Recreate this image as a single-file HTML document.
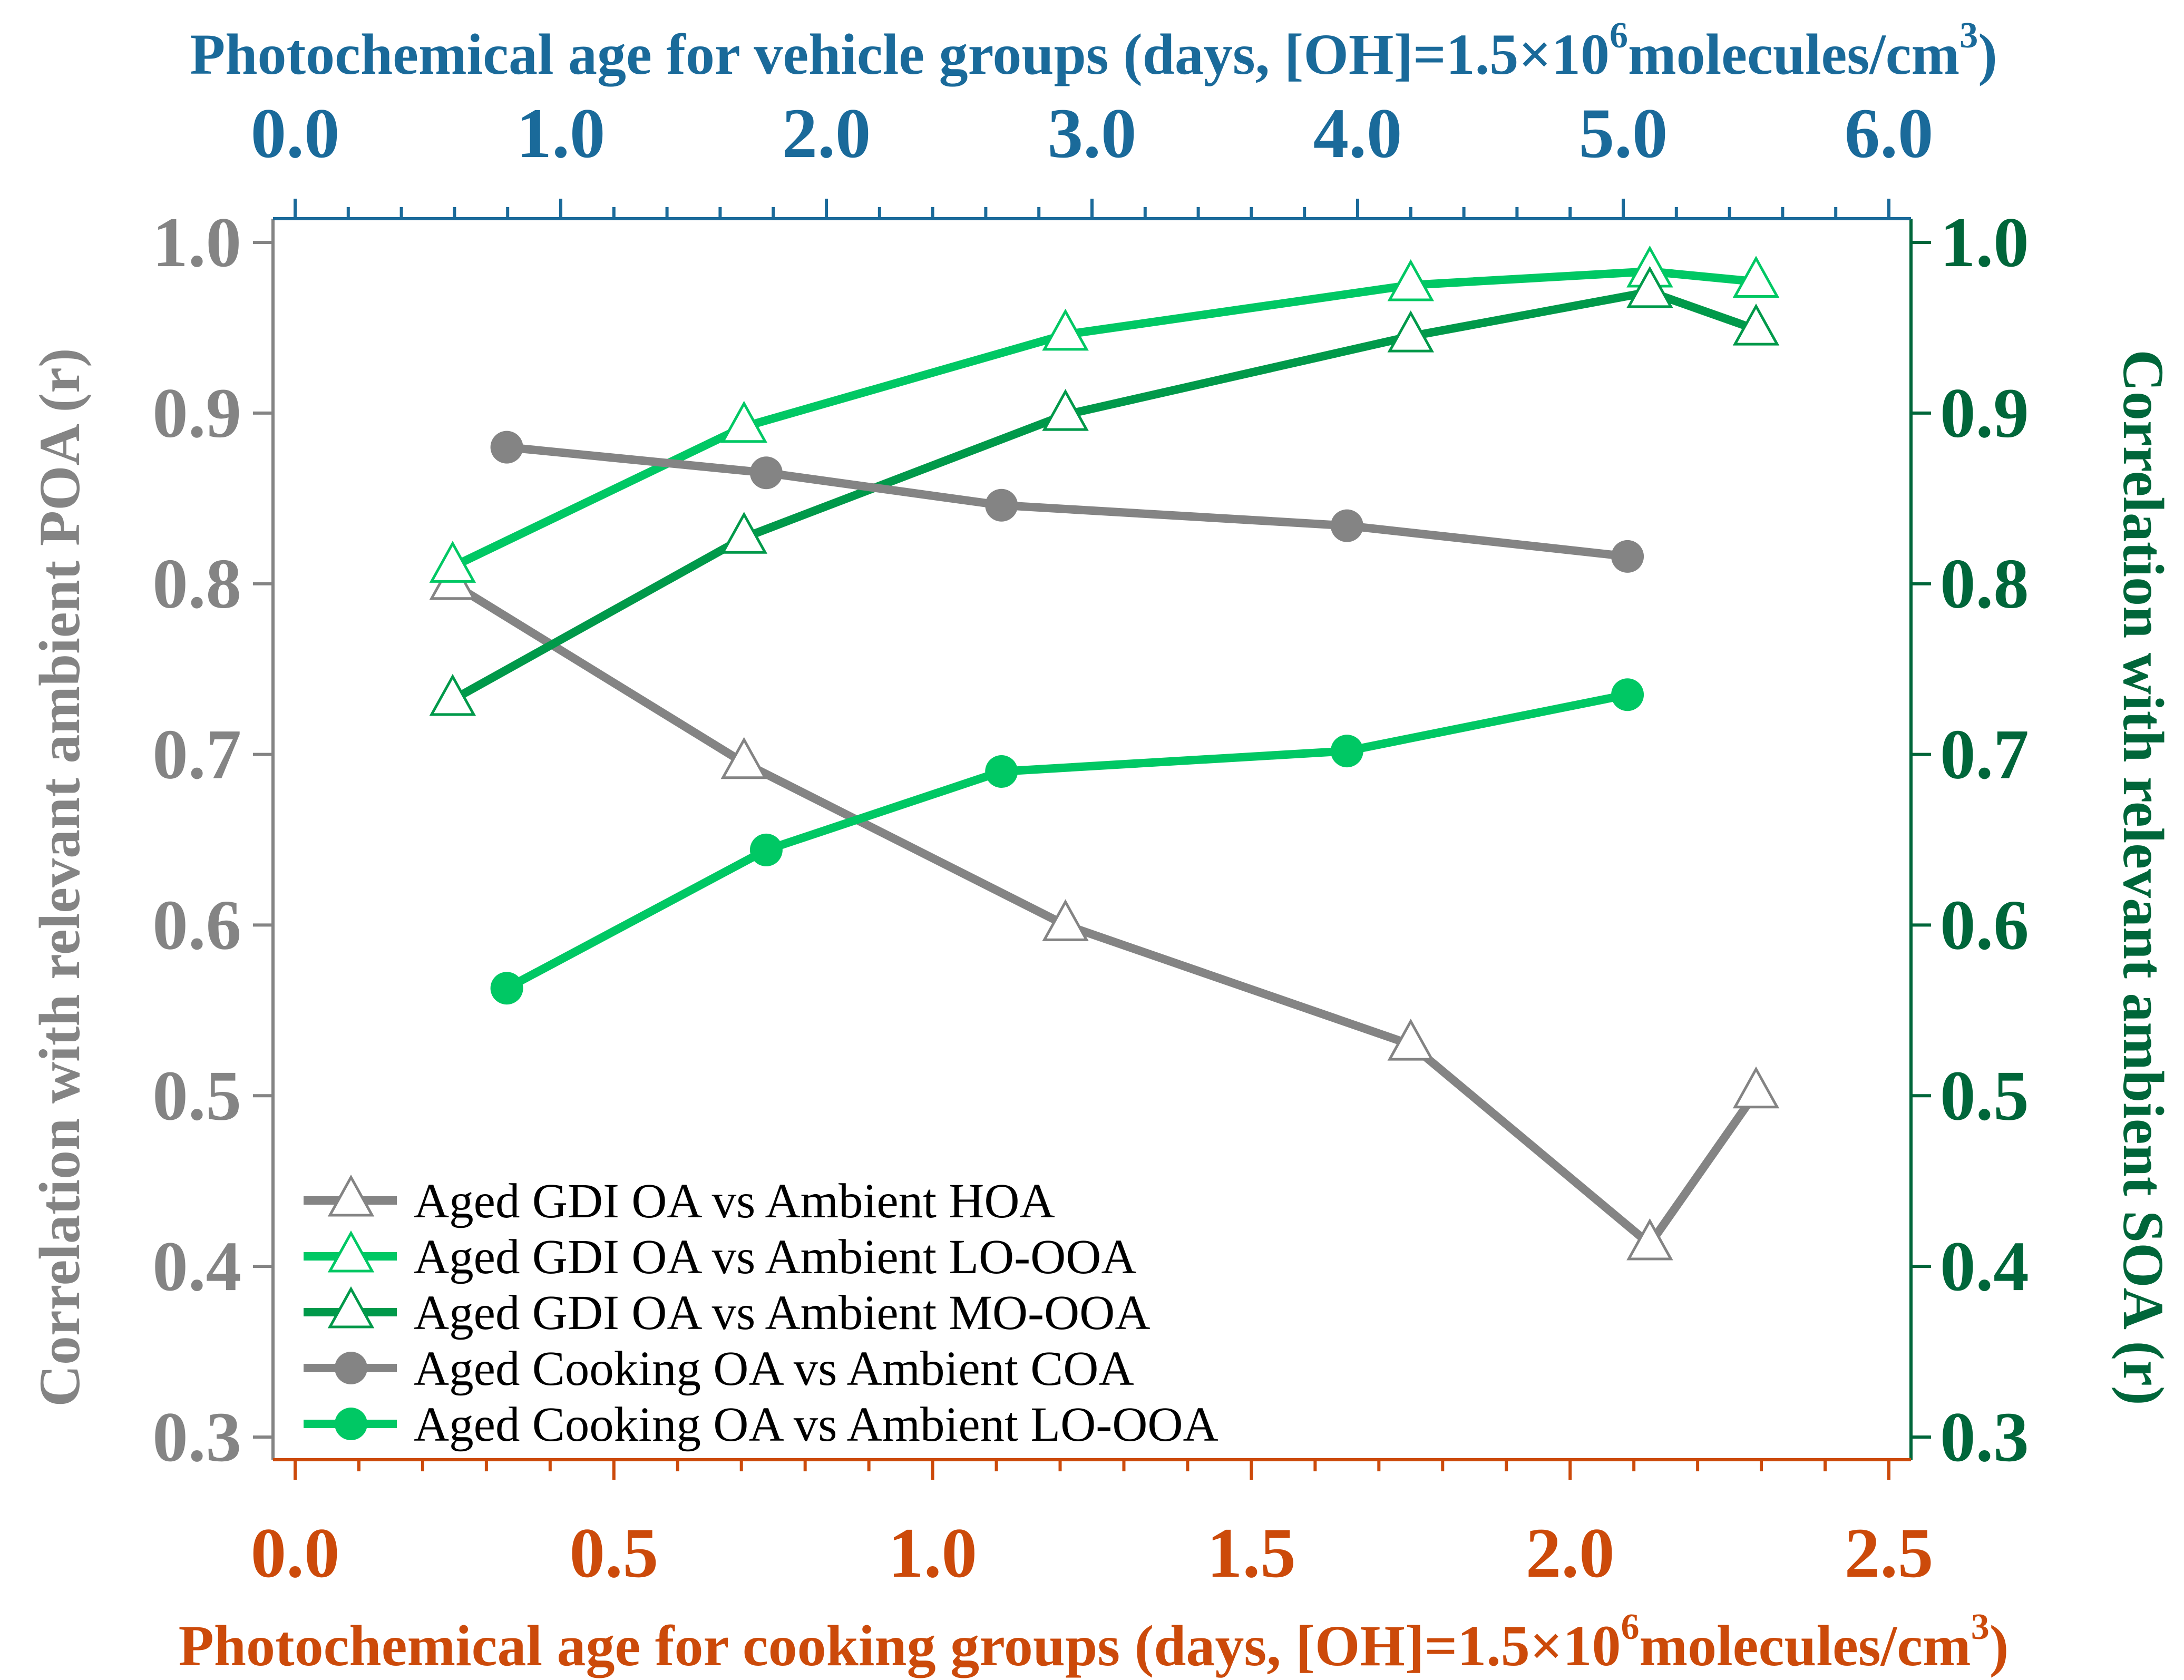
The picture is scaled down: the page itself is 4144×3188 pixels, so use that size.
<!DOCTYPE html>
<html><head><meta charset="utf-8"><style>html,body{margin:0;padding:0;background:#fff}svg{display:block}</style></head>
<body>
<svg id="chart" xmlns="http://www.w3.org/2000/svg" width="4144" height="3188" viewBox="0 0 4144 3188" font-family="'Liberation Serif', serif">
<rect width="4144" height="3188" fill="#fff"/>
<g id="axes"></g><g id="marks"></g><g id="legend"></g>
</svg>
<script>
const vehDays=[0.593,1.69,2.90,4.20,5.10,5.50];
const hoa=[0.80,0.695,0.60,0.53,0.413,0.502];
const gdiLoOoa=[0.81,0.892,0.946,0.975,0.983,0.977];
const gdiMoOoa=[0.732,0.827,0.899,0.945,0.971,0.949];
const cookDays=[0.332,0.739,1.108,1.65,2.09];
const coa=[0.880,0.865,0.846,0.834,0.816];
const cookLoOoa=[0.563,0.644,0.690,0.702,0.735];
const yTicks=[0.3,0.4,0.5,0.6,0.7,0.8,0.9,1.0];
const topTicks=[0,1,2,3,4,5,6];
const botTicks=[0,0.5,1.0,1.5,2.0,2.5];
const legendLabels=["Aged GDI OA vs Ambient HOA","Aged GDI OA vs Ambient LO-OOA","Aged GDI OA vs Ambient MO-OOA","Aged Cooking OA vs Ambient COA","Aged Cooking OA vs Ambient LO-OOA"];

const NS="http://www.w3.org/2000/svg";
const L=518,R=3626,T=415,B=2770;
const yS=v=>460+(1.0-v)*(2727-460)/0.7;
const xTop=v=>560+v*(3584-560)/6;
const xBot=v=>560+v*(3584-560)/2.5;
const GRAY="#848484",LG="#00c864",DG="#00994a",BLUE="#1a6a9a",OR="#cc4a0a",RG="#00663a";
function el(p,t,a){const e=document.createElementNS(NS,t);for(const k in a)e.setAttribute(k,a[k]);p.appendChild(e);return e;}
const ax=document.getElementById('axes'),mk=document.getElementById('marks'),lg=document.getElementById('legend');

let s;
s=el(ax,'line',{x1:L,y1:T,x2:L,y2:B,stroke:GRAY,'stroke-width':6});

s=el(ax,'line',{x1:R,y1:T,x2:R,y2:B,stroke:RG,'stroke-width':6});

s=el(ax,'line',{x1:L,y1:T,x2:R,y2:T,stroke:BLUE,'stroke-width':6});

s=el(ax,'line',{x1:L,y1:B,x2:R,y2:B,stroke:OR,'stroke-width':6});


yTicks.forEach(v=>{
  const y=yS(v);
  el(ax,'line',{x1:L-38,y1:y,x2:L,y2:y,stroke:GRAY,'stroke-width':6});
  el(ax,'line',{x1:R,y1:y,x2:R+38,y2:y,stroke:RG,'stroke-width':6});
  let t=el(ax,'text',{x:L-60,y:y+45,'text-anchor':'end','font-size':135,'font-weight':'bold',fill:GRAY});t.textContent=v.toFixed(1);
  
  t=el(ax,'text',{x:R+55,y:y+45,'text-anchor':'start','font-size':135,'font-weight':'bold',fill:RG});t.textContent=v.toFixed(1);
  
});
for(let i=0;i<=30;i++){const v=i*0.2,x=xTop(v);if(x>R)break;const maj=i%5===0;
  el(ax,'line',{x1:x,y1:T,x2:x,y2:T-(maj?38:22),stroke:BLUE,'stroke-width':6});}
topTicks.forEach(v=>{const t=el(ax,'text',{x:xTop(v),y:298,'text-anchor':'middle','font-size':135,'font-weight':'bold',fill:BLUE});t.textContent=v.toFixed(1);
  });
for(let i=0;i<=25;i++){const v=i*0.1,x=xBot(v);const maj=i%5===0;
  el(ax,'line',{x1:x,y1:B,x2:x,y2:B+(maj?38:22),stroke:OR,'stroke-width':6});}
botTicks.forEach(v=>{const t=el(ax,'text',{x:xBot(v),y:2992,'text-anchor':'middle','font-size':135,'font-weight':'bold',fill:OR});t.textContent=v.toFixed(1);
  });

function title(txt,x,y,col,rot,name){const t=el(ax,'text',{x:x,y:y,'text-anchor':'middle','font-size':110,'font-weight':'bold',fill:col});
  if(rot)t.setAttribute('transform','rotate('+rot+' '+x+' '+y+')');t.innerHTML=txt;
  }
title('Photochemical age for vehicle groups (days, [OH]=1.5×10<tspan dy="-50" font-size="70">6</tspan><tspan dy="50">molecules/cm</tspan><tspan dy="-50" font-size="70">3</tspan><tspan dy="50">)</tspan>',2075,140,BLUE,0,'top-axis-title');
title('Photochemical age for cooking groups (days, [OH]=1.5×10<tspan dy="-50" font-size="70">6</tspan><tspan dy="50">molecules/cm</tspan><tspan dy="-50" font-size="70">3</tspan><tspan dy="50">)</tspan>',2075,3160,OR,0,'bottom-axis-title');
title('Correlation with relevant ambient POA (r)',150,1665,GRAY,-90,'left-axis-title');
title('Correlation with relevant ambient SOA (r)',4030,1665,RG,90,'right-axis-title');

function tri(p,x,y,col){return el(p,'polygon',{points:`${x},${y-44} ${x-40},${y+28} ${x+40},${y+28}`,fill:'#fff',stroke:col,'stroke-width':5});}
function circ(p,x,y,col){return el(p,'circle',{cx:x,cy:y,r:31,fill:col});}
const series=[
 {xs:vehDays,ys:hoa,xf:xTop,col:GRAY,m:tri,name:'gdi-hoa'},
 {xs:vehDays,ys:gdiLoOoa,xf:xTop,col:LG,m:tri,name:'gdi-lo-ooa'},
 {xs:vehDays,ys:gdiMoOoa,xf:xTop,col:DG,m:tri,name:'gdi-mo-ooa'},
 {xs:cookDays,ys:coa,xf:xBot,col:GRAY,m:circ,name:'cooking-coa'},
 {xs:cookDays,ys:cookLoOoa,xf:xBot,col:LG,m:circ,name:'cooking-lo-ooa'}];
series.forEach(sr=>{
  const pts=sr.xs.map((x,i)=>sr.xf(x)+','+yS(sr.ys[i])).join(' ');
  const pl=el(mk,'polyline',{points:pts,fill:'none',stroke:sr.col,'stroke-width':16,'stroke-linejoin':'round'});
  
  sr.xs.forEach((x,i)=>{const m=sr.m(mk,sr.xf(x),yS(sr.ys[i]),sr.col);
    });
});
series.forEach((sr,k)=>{const y=2278+k*106;
  const g=el(lg,'g',{});
  el(g,'line',{x1:576,y1:y,x2:753,y2:y,stroke:sr.col,'stroke-width':16});
  sr.m(g,666,y,sr.col);
  const t=el(g,'text',{x:785,y:y+32,'font-size':93,fill:'#000'});t.textContent=legendLabels[k];});
</script>
</body></html>
